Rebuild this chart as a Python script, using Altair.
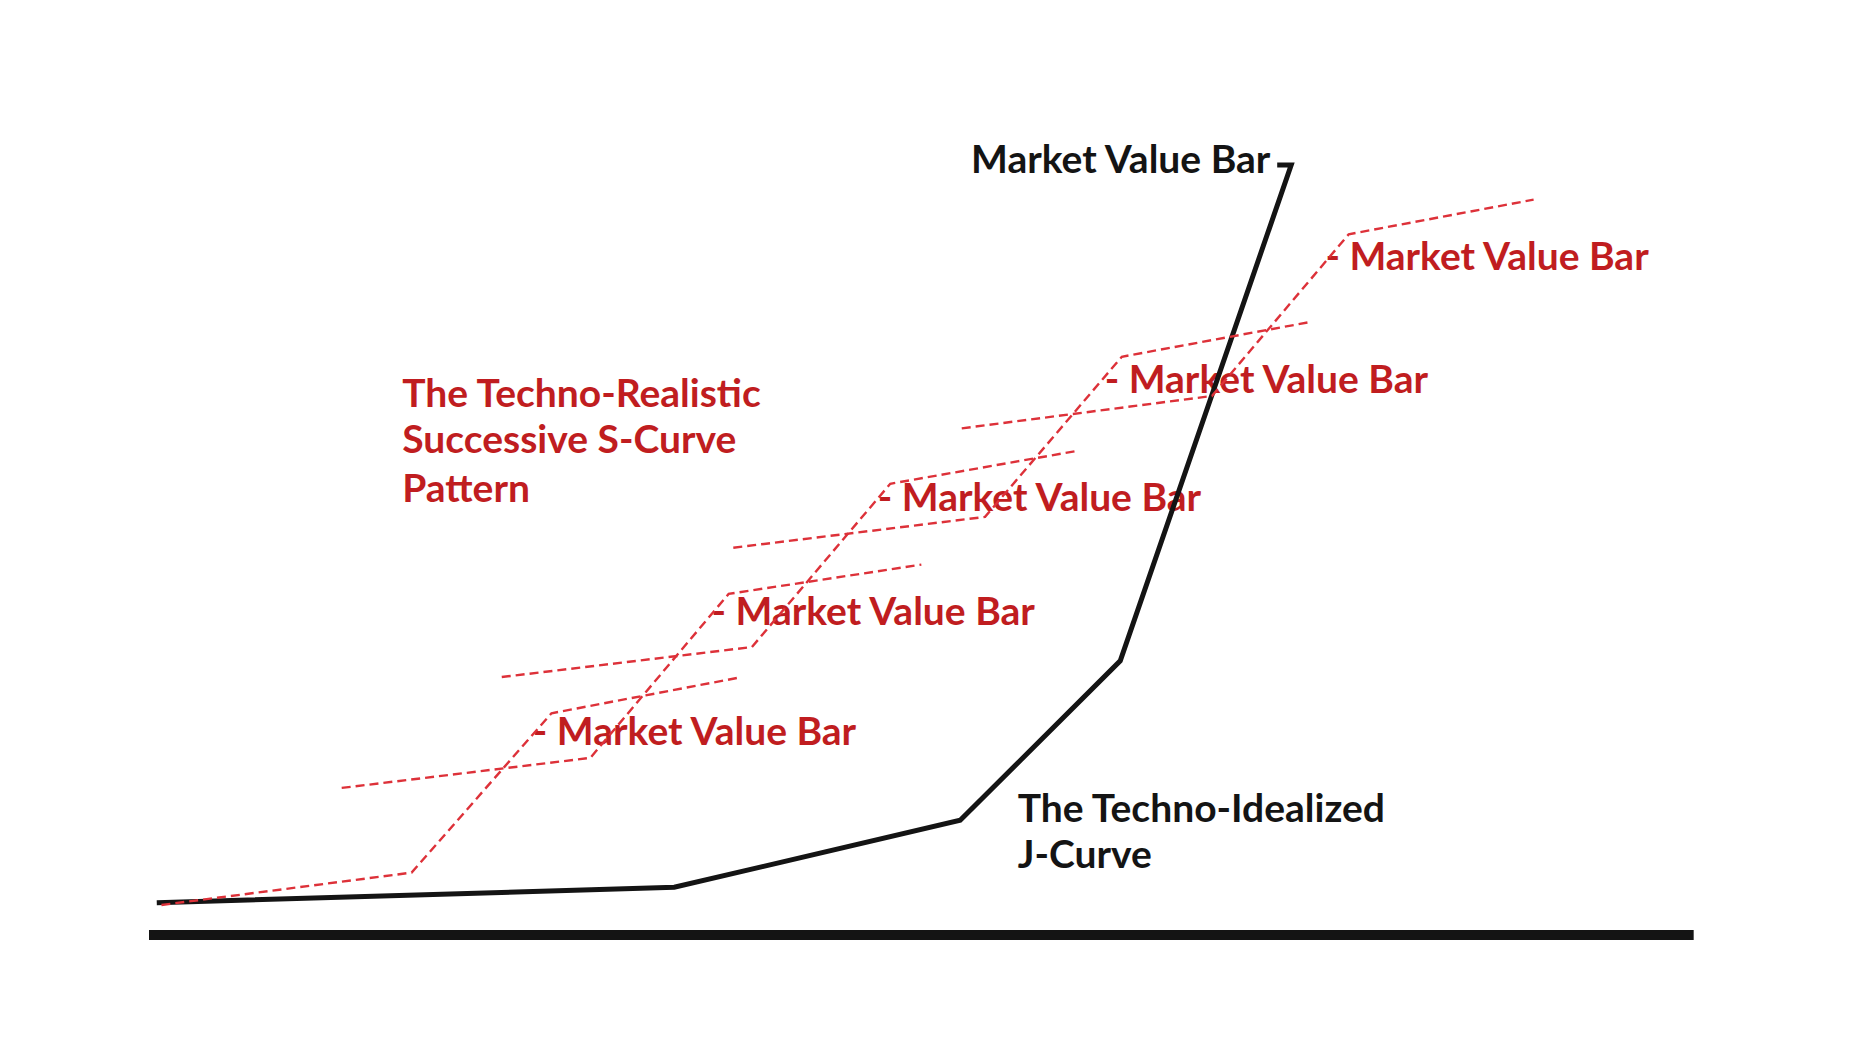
import altair as alt
import pandas as pd

# ---- data (time, value) ----
s_curve_names = ["S1", "S2", "S3", "S4", "S5"]
s_time = [
    [0.8, 16.9, 25.9, 37.9],
    [12.4, 28.4, 37.3, 49.7],
    [22.7, 38.8, 47.7, 59.8],
    [37.6, 53.8, 62.6, 74.7],
    [52.3, 68.4, 77.2, 89.1],
]
s_value = [
    [3.9, 8.1, 28.8, 33.4],
    [19.1, 23.0, 44.3, 48.1],
    [33.5, 37.4, 58.6, 62.9],
    [50.3, 54.3, 75.1, 79.6],
    [65.8, 70.0, 91.0, 95.5],
]
j_time = [0.5, 33.8, 52.2, 62.5, 73.5, 72.6]
j_value = [4.2, 6.2, 14.9, 35.6, 100.0, 100.0]

bar_label = "- Market Value Bar"
bar_label_time = [24.7, 36.2, 46.9, 61.5, 75.7]
bar_label_value = [24.7, 40.3, 55.1, 70.4, 86.4]

realistic_lines = ["The Techno-Realistic", "Successive S-Curve", "Pattern"]
realistic_time = 16.3
realistic_value = [68.6, 62.6, 56.2]

idealized_lines = ["The Techno-Idealized", "J-Curve"]
idealized_time = 55.9
idealized_value = [14.7, 8.7]

top_label = "Market Value Bar"
top_label_time = 52.9
top_label_value = 99.0

axis_start, axis_end = 0, 99.4

# ---- tables ----
s_rows = []
for name, ts, vs in zip(s_curve_names, s_time, s_value):
    for i, (t, v) in enumerate(zip(ts, vs)):
        s_rows.append({"curve": name, "order": i, "t": t, "v": v})
s_df = pd.DataFrame(s_rows)
j_df = pd.DataFrame({"order": range(len(j_time)), "t": j_time, "v": j_value})
lab_df = pd.DataFrame({"t": bar_label_time, "v": bar_label_value, "txt": [bar_label] * 5})
red_title_df = pd.DataFrame({"t": [realistic_time] * 3, "v": realistic_value, "txt": realistic_lines})
black_df = pd.DataFrame({
    "t": [idealized_time, idealized_time, top_label_time],
    "v": idealized_value + [top_label_value],
    "txt": idealized_lines + [top_label],
})
base_df = pd.DataFrame({"t": [axis_start], "t2": [axis_end], "v": [0]})

W, H = 1844, 1030
xs = alt.Scale(domain=[0, 100], range=[141, 1695], nice=False, zero=False)
ys = alt.Scale(domain=[0, 100], range=[927, 157], nice=False, zero=False)
X = alt.X("t:Q", scale=xs, axis=None)
Y = alt.Y("v:Q", scale=ys, axis=None)

RED_TEXT = "#c01d20"
RED_LINE = "#dd3139"
BLACK = "#141414"
FONT = "Lato"
FS = 39

base = alt.Chart(base_df).mark_rule(color=BLACK, strokeWidth=10, strokeCap="butt").encode(
    x=X, x2="t2:Q", y=Y)

red_labels = alt.Chart(lab_df).mark_text(
    align="left", baseline="alphabetic", font=FONT, fontWeight="bold", fontSize=FS, color=RED_TEXT
).encode(x=X, y=Y, text="txt:N")

red_title = alt.Chart(red_title_df).mark_text(
    align="left", baseline="alphabetic", font=FONT, fontWeight="bold", fontSize=FS, color=RED_TEXT
).encode(x=X, y=Y, text="txt:N")

s_lines = alt.Chart(s_df).mark_line(
    color=RED_LINE, strokeWidth=2.4, strokeDash=[9, 5], strokeJoin="miter"
).encode(x=X, y=Y, detail="curve:N", order="order:Q")

j_line = alt.Chart(j_df).mark_line(
    color=BLACK, strokeWidth=5, strokeJoin="miter"
).encode(x=X, y=Y, order="order:Q")

black_text = alt.Chart(black_df).mark_text(
    align="left", baseline="alphabetic", font=FONT, fontWeight="bold", fontSize=FS, color=BLACK
).encode(x=X, y=Y, text="txt:N")

chart = alt.layer(base, red_labels, red_title, j_line, s_lines, black_text).properties(
    width=W, height=H, autosize=alt.AutoSizeParams(type="none"), padding=0
).configure_view(strokeWidth=0)

chart.save("out.html", embed_options={"renderer": "svg", "actions": False})
